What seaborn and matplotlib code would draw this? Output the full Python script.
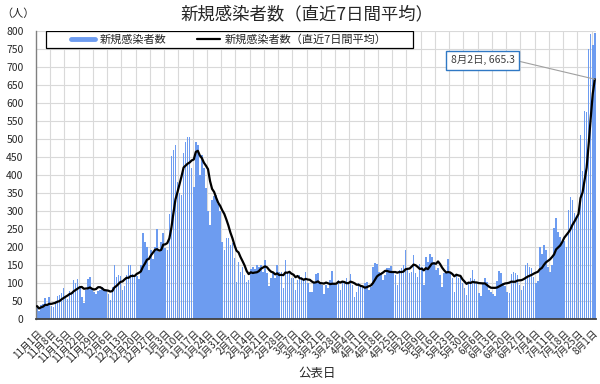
import numpy as np
import pandas as pd
import seaborn as sns
import matplotlib.pyplot as plt
from matplotlib.lines import Line2D
from matplotlib.patches import Rectangle

# daily new cases, 2020-11-01 .. 2021-08-02
nov = [35, 22, 38, 40, 57, 38, 59, 35, 32, 48, 62, 67, 72, 86, 60, 55, 78, 75, 107, 98,
       110, 90, 60, 43, 80, 110, 115, 85, 75, 70]
dec = [78, 80, 88, 82, 78, 70, 52, 88, 149, 117, 121, 118, 80, 90, 121, 149, 150, 124, 118, 120,
       110, 148, 237, 214, 200, 135, 190, 165, 200, 248, 186]
jan = [214, 237, 196, 190, 290, 453, 470, 482, 380, 350, 345, 460, 492, 506, 506, 420, 367, 492, 482, 399,
       455, 418, 362, 300, 260, 330, 340, 343, 320, 300, 214]
feb = [191, 223, 223, 205, 209, 168, 103, 158, 130, 144, 121, 103, 108, 139, 144, 139, 149, 144, 149, 130,
       163, 126, 90, 112, 130, 112, 149, 130]
mar = [130, 84, 163, 126, 130, 112, 112, 80, 108, 121, 116, 108, 130, 99, 75, 75, 98, 123, 126, 98,
       94, 70, 94, 84, 107, 133, 98, 94, 107, 80, 103]
apr = [98, 112, 98, 123, 94, 61, 75, 98, 89, 89, 98, 103, 80, 89, 144, 155, 153, 130, 121, 107,
       121, 142, 140, 147, 130, 121, 94, 135, 140, 149]
may = [191, 140, 126, 130, 177, 126, 117, 153, 144, 94, 172, 158, 179, 172, 158, 135, 140, 121, 89, 126,
       130, 167, 126, 112, 75, 120, 112, 121, 100, 84, 66]
jun = [100, 112, 135, 110, 98, 72, 62, 98, 112, 103, 80, 75, 70, 62, 105, 133, 126, 100, 90, 75,
       72, 125, 130, 128, 122, 93, 80, 90, 150, 155]
jul = [145, 140, 116, 100, 105, 200, 181, 204, 190, 144, 130, 150, 251, 279, 242, 228, 210, 215, 200, 302,
       339, 330, 293, 283, 290, 510, 410, 578, 574, 750, 790]
aug = [760, 795]

start_date = '2020-11-01'
end_date = '2021-08-02'
last_label = '8月2日, 665.3'

BAR_COLOR = '#6d9cf0'

daily = nov + dec + jan + feb + mar + apr + may + jun + jul + aug
dates = pd.date_range(start_date, end_date, freq='D')

df = pd.DataFrame({'day': np.arange(len(dates)), 'cases': daily})
df['avg7'] = df['cases'].rolling(7, min_periods=1).mean()

tick_pos = df['day'][::7]
tick_labels = [f'{d.month}月{d.day}日' for d in dates[::7]]

sns.set_theme(style='white')
plt.rcParams['font.family'] = ['Noto Sans CJK JP', 'DejaVu Sans']

fig, ax = plt.subplots(figsize=(6.0, 3.84), dpi=100)
fig.subplots_adjust(left=0.06, right=0.993, top=0.92, bottom=0.17)

sns.barplot(data=df, x='day', y='cases', color=BAR_COLOR, saturation=1, width=0.75,
            linewidth=0, errorbar=None, ax=ax, zorder=2)
sns.lineplot(data=df, x='day', y='avg7', color='black', linewidth=1.6, ax=ax, zorder=3)

ax.set_xlim(-0.5, len(df) - 0.5)
ax.set_ylim(0, 800)
ax.set_yticks(range(0, 801, 50))
ax.set_xticks(tick_pos)
ax.set_xticklabels(tick_labels, rotation=45, ha='right', rotation_mode='anchor', fontsize=7)
ax.set_xticks(np.arange(6.5, len(df), 7), minor=True)
ax.tick_params(axis='y', labelsize=7.5, length=0, pad=9)
ax.tick_params(axis='x', which='both', length=0, pad=7)
ax.set_axisbelow(True)
ax.yaxis.grid(True, color='#d9d9d9', linewidth=0.8)
ax.xaxis.grid(True, which='minor', color='#d9d9d9', linewidth=0.8)
ax.xaxis.grid(False, which='major')
ax.set_xlabel('')
ax.set_ylabel('')

for side in ['top', 'right']:
    ax.spines[side].set_visible(False)
ax.spines['left'].set_color('#808080')
ax.spines['left'].set_linewidth(1.0)
ax.spines['bottom'].set_color('#404040')
ax.spines['bottom'].set_linewidth(1.3)

# legend box
ax.add_patch(Rectangle((0.0178, 0.940), 0.655, 0.059, transform=ax.transAxes,
                       facecolor='white', edgecolor='black', linewidth=0.9, zorder=4))
handles = [Line2D([0], [0], color=BAR_COLOR, lw=3.5),
           Line2D([0], [0], color='black', lw=1.6)]
leg = ax.legend(handles, ['新規感染者数', '新規感染者数（直近7日間平均）'], loc='center',
                bbox_to_anchor=(0.345, 0.969), ncol=2, frameon=False, fontsize=8,
                handlelength=2.1, handletextpad=0.4, columnspacing=2.8, borderpad=0)
leg.set_zorder(5)

ax.annotate(last_label, xy=(df['day'].iloc[-1], df['avg7'].iloc[-1]), xytext=(219, 718),
            ha='center', va='center', fontsize=7.5, color='#404040', zorder=6,
            bbox=dict(boxstyle='square,pad=0.45', fc='white', ec='#2f78c4', lw=1),
            arrowprops=dict(arrowstyle='-', color='#a0a0a0', lw=0.8, relpos=(1, 0.5),
                            shrinkA=0, shrinkB=0))

fig.text(306.5 / 600, 1 - 14.5 / 384, '新規感染者数（直近7日間平均）', ha='center', va='center',
         fontsize=12.5)
fig.text(17.5 / 600, 1 - 14 / 384, '（人）', ha='center', va='center', fontsize=8)
fig.text(317 / 600, 1 - 373 / 384, '公表日', ha='center', va='center', fontsize=9)

fig.savefig('out.png', dpi=100, facecolor='white')
